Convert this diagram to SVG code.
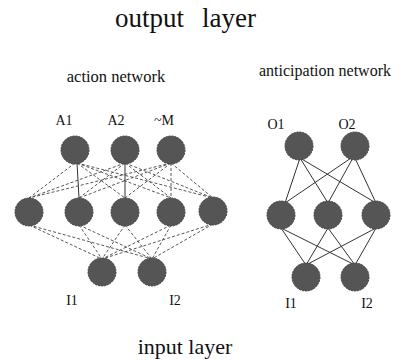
<svg xmlns="http://www.w3.org/2000/svg" width="409" height="360" viewBox="0 0 409 360">
<style>
.t{font-family:"Liberation Serif","Times New Roman",serif;fill:#111}
.n{fill:#555;stroke:#404040;stroke-width:1;stroke-dasharray:2 1}
.s{stroke:#333;stroke-width:1;fill:none}
.d{stroke:#444;stroke-width:0.9;stroke-dasharray:3 2;fill:none}
</style>
<rect width="409" height="360" fill="#fff"/>
<text class="t" x="115" y="27" font-size="27">output</text>
<text class="t" x="202" y="27" font-size="27">layer</text>
<text class="t" x="116" y="82" font-size="16.5" text-anchor="middle">action network</text>
<text class="t" x="325" y="76" font-size="16" text-anchor="middle">anticipation network</text>
<text class="t" x="185" y="354" font-size="22" text-anchor="middle">input layer</text>
<g id="connectors">
<line class="d" x1="75" y1="163" x2="29" y2="198"/>
<line class="s" x1="77" y1="163" x2="79" y2="198"/>
<line class="d" x1="77" y1="163" x2="125" y2="198"/>
<line class="d" x1="77" y1="163" x2="171" y2="198"/>
<line class="d" x1="77" y1="163" x2="213" y2="198"/>
<line class="d" x1="125" y1="163" x2="29" y2="198"/>
<line class="d" x1="125" y1="163" x2="79" y2="198"/>
<line class="s" x1="125" y1="163" x2="125" y2="198"/>
<line class="d" x1="125" y1="163" x2="171" y2="198"/>
<line class="d" x1="125" y1="163" x2="213" y2="198"/>
<line class="d" x1="171" y1="163" x2="29" y2="198"/>
<line class="d" x1="171" y1="163" x2="79" y2="198"/>
<line class="d" x1="171" y1="163" x2="125" y2="198"/>
<line class="d" x1="171" y1="163" x2="171" y2="198"/>
<line class="d" x1="171" y1="163" x2="213" y2="198"/>
<line class="d" x1="29" y1="225" x2="102" y2="259"/>
<line class="d" x1="29" y1="225" x2="152" y2="259"/>
<line class="d" x1="79" y1="225" x2="102" y2="259"/>
<line class="d" x1="79" y1="225" x2="152" y2="259"/>
<line class="d" x1="125" y1="225" x2="102" y2="259"/>
<line class="d" x1="125" y1="225" x2="152" y2="259"/>
<line class="d" x1="171" y1="225" x2="102" y2="259"/>
<line class="d" x1="171" y1="225" x2="152" y2="259"/>
<line class="d" x1="213" y1="224" x2="102" y2="259"/>
<line class="d" x1="213" y1="224" x2="152" y2="259"/>
<line class="s" x1="300" y1="158" x2="285" y2="203"/>
<line class="s" x1="300" y1="158" x2="328" y2="203"/>
<line class="s" x1="300" y1="158" x2="376" y2="203"/>
<line class="s" x1="354" y1="156" x2="285" y2="203"/>
<line class="s" x1="354" y1="156" x2="328" y2="203"/>
<line class="s" x1="354" y1="156" x2="376" y2="203"/>
<line class="s" x1="281" y1="228" x2="306" y2="265"/>
<line class="s" x1="281" y1="228" x2="355" y2="265"/>
<line class="s" x1="328" y1="228" x2="306" y2="265"/>
<line class="s" x1="328" y1="228" x2="355" y2="265"/>
<line class="s" x1="376" y1="228" x2="306" y2="265"/>
<line class="s" x1="376" y1="228" x2="355" y2="265"/>
</g>
<g id="A1"><circle class="n" cx="75" cy="150" r="14"/><text class="t" x="64" y="125" font-size="14" text-anchor="middle">A1</text></g>
<g id="A2"><circle class="n" cx="125" cy="150" r="14"/><text class="t" x="116" y="125" font-size="14" text-anchor="middle">A2</text></g>
<g id="M"><circle class="n" cx="171" cy="150" r="14"/><text class="t" x="164" y="125" font-size="14" text-anchor="middle">~M</text></g>
<g id="LH1"><circle class="n" cx="29" cy="212" r="14"/></g>
<g id="LH2"><circle class="n" cx="79" cy="212" r="14"/></g>
<g id="LH3"><circle class="n" cx="125" cy="212" r="14"/></g>
<g id="LH4"><circle class="n" cx="171" cy="212" r="14"/></g>
<g id="LH5"><circle class="n" cx="213" cy="211" r="14"/></g>
<g id="LI1"><circle class="n" cx="102" cy="272" r="14"/><text class="t" x="72" y="305" font-size="14" text-anchor="middle">I1</text></g>
<g id="LI2"><circle class="n" cx="152" cy="272" r="14"/><text class="t" x="175" y="305" font-size="14" text-anchor="middle">I2</text></g>
<g id="O1"><circle class="n" cx="299" cy="146" r="14"/><text class="t" x="276" y="129" font-size="14" text-anchor="middle">O1</text></g>
<g id="O2"><circle class="n" cx="355" cy="146" r="14"/><text class="t" x="347" y="129" font-size="14" text-anchor="middle">O2</text></g>
<g id="RH1"><circle class="n" cx="281" cy="215" r="14"/></g>
<g id="RH2"><circle class="n" cx="328" cy="215" r="14"/></g>
<g id="RH3"><circle class="n" cx="376" cy="215" r="14"/></g>
<g id="RI1"><circle class="n" cx="306" cy="277" r="14"/><text class="t" x="291" y="308" font-size="14" text-anchor="middle">I1</text></g>
<g id="RI2"><circle class="n" cx="355" cy="277" r="14"/><text class="t" x="367" y="308" font-size="14" text-anchor="middle">I2</text></g>
</svg>
